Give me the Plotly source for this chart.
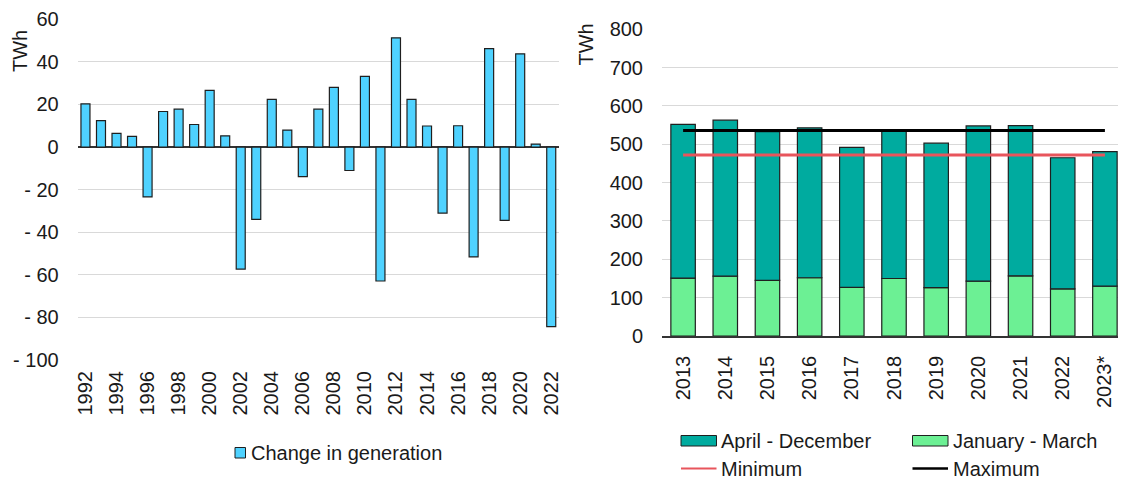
import plotly.graph_objects as go

# ---------------- data ----------------
years_left = ["1992", "1993", "1994", "1995", "1996", "1997", "1998", "1999", "2000", "2001",
              "2002", "2003", "2004", "2005", "2006", "2007", "2008", "2009", "2010", "2011",
              "2012", "2013", "2014", "2015", "2016", "2017", "2018", "2019", "2020", "2021", "2022"]
change_in_generation = [20.3, 12.4, 6.4, 5.0, -23.4, 16.7, 17.8, 10.6, 26.6, 5.3,
                        -57.3, -34.0, 22.4, 8.0, -13.9, 17.8, 28.0, -11.0, 33.2, -62.9,
                        51.3, 22.4, 9.9, -31.0, 10.0, -51.6, 46.2, -34.4, 43.8, 1.4, -84.3]
left_xticks = ["1992", "1994", "1996", "1998", "2000", "2002", "2004", "2006", "2008",
               "2010", "2012", "2014", "2016", "2018", "2020", "2022"]
left_yticks = [-100, -80, -60, -40, -20, 0, 20, 40, 60]
left_yticktext = ["- 100", "- 80", "- 60", "- 40", "- 20", "0", "20", "40", "60"]

years_right = ["2013", "2014", "2015", "2016", "2017", "2018", "2019", "2020", "2021", "2022", "2023*"]
jan_mar = [151, 156, 145, 152, 127, 150, 126, 143, 157, 123, 130]
apr_dec = [401, 407, 388, 391, 365, 388, 377, 405, 392, 342, 351]
minimum = [472, 472, 472, 472, 472, 472, 472, 472, 472, 472, 472]
maximum = [536, 536, 536, 536, 536, 536, 536, 536, 536, 536, 536]
right_yticks = [0, 100, 200, 300, 400, 500, 600, 700, 800]

# ---------------- styles ----------------
OFF = 8                       # default page body margin
W, H = 1126 - OFF, 481 - OFF  # figure size so that it fits the window
FONT = "Liberation Sans, Arial, sans-serif"
TXT = "#1a1a1a"
FS = 20
GRID = "#d9d9d9"
BLUE = "#4fd2ff"
TEAL = "#00ab9f"
GREEN = "#6cf094"
RED = "#e8555c"
EDGE = "#1f1f1f"


def px(x):
    return (x - OFF) / W


def py(y):
    return 1 - (y - OFF) / H


fig = go.Figure()

fig.add_trace(go.Bar(x=years_left, y=change_in_generation, name="Change in generation",
                     marker=dict(color=BLUE, line=dict(color=EDGE, width=1.2)),
                     xaxis="x", yaxis="y", showlegend=False))

fig.add_trace(go.Bar(x=years_right, y=jan_mar, name="January - March",
                     marker=dict(color=GREEN, line=dict(color=EDGE, width=1.2)),
                     xaxis="x2", yaxis="y2", showlegend=False))
fig.add_trace(go.Bar(x=years_right, y=apr_dec, name="April - December",
                     marker=dict(color=TEAL, line=dict(color=EDGE, width=1.2)),
                     xaxis="x2", yaxis="y2", showlegend=False))
fig.add_trace(go.Scatter(x=years_right, y=minimum, name="Minimum", mode="lines",
                         line=dict(color=RED, width=3), xaxis="x2", yaxis="y2", showlegend=False))
fig.add_trace(go.Scatter(x=years_right, y=maximum, name="Maximum", mode="lines",
                         line=dict(color="#000000", width=3), xaxis="x2", yaxis="y2", showlegend=False))

tickfont = dict(family=FONT, size=FS, color=TXT)

fig.update_layout(
    template="none",
    width=W, height=H,
    margin=dict(l=0, r=0, t=0, b=0, autoexpand=False),
    paper_bgcolor="white", plot_bgcolor="white",
    barmode="relative", bargap=0.42,
    hovermode="closest",
    font=dict(family=FONT, size=FS, color=TXT),
    xaxis=dict(domain=[px(77.7), px(559)], type="category", automargin=False,
               tickmode="array", tickvals=left_xticks, ticktext=left_xticks,
               tickangle=-90, tickfont=tickfont, showgrid=False, showline=False,
               zeroline=False, ticks="", ticklabelstandoff=6, anchor="y"),
    yaxis=dict(domain=[py(360), py(19.3)], range=[-100, 60], automargin=False,
               tickmode="array", tickvals=left_yticks, ticktext=left_yticktext,
               tickfont=tickfont, showgrid=True, gridcolor=GRID, gridwidth=1.3,
               zeroline=True, zerolinecolor="#333333", zerolinewidth=1.5,
               showline=False, ticks="", ticklabelstandoff=18, anchor="x"),
    xaxis2=dict(domain=[px(662), 1.0], type="category", automargin=False,
                tickangle=-90, tickfont=tickfont, showgrid=False,
                showline=True, linecolor="#333333", linewidth=1.5, zeroline=False,
                ticks="", ticklabelstandoff=10, anchor="y2"),
    yaxis2=dict(domain=[py(336), py(29.3)], range=[0, 800], automargin=False,
                tickmode="array", tickvals=right_yticks,
                tickfont=tickfont, showgrid=True, gridcolor=GRID, gridwidth=1.3,
                zeroline=False, showline=False, ticks="", ticklabelstandoff=18, anchor="x2"),
)

shapes = []
annotations = []

# axis titles
annotations.append(dict(text="TWh", x=px(20), y=py(51), xref="paper", yref="paper",
                        textangle=-90, showarrow=False, font=dict(family=FONT, size=FS, color=TXT),
                        xanchor="center", yanchor="middle"))
annotations.append(dict(text="TWh", x=px(585.5), y=py(45), xref="paper", yref="paper",
                        textangle=-90, showarrow=False, font=dict(family=FONT, size=FS, color=TXT),
                        xanchor="center", yanchor="middle"))


def legend_text(label, x, y):
    annotations.append(dict(text=label, x=px(x), y=py(y), xref="paper", yref="paper",
                            showarrow=False, xanchor="left", yanchor="middle",
                            font=dict(family=FONT, size=FS, color=TXT)))


# left legend
shapes.append(dict(type="rect", xref="paper", yref="paper",
                   x0=px(235), x1=px(245.5), y0=py(458), y1=py(447.5),
                   fillcolor=BLUE, line=dict(color=EDGE, width=1)))
legend_text("Change in generation", 248.5, 452.5)

# right legend
shapes.append(dict(type="rect", xref="paper", yref="paper",
                   x0=px(681), x1=px(716.5), y0=py(446), y1=py(435.5),
                   fillcolor=TEAL, line=dict(color=EDGE, width=1)))
legend_text("April - December", 719, 440.5)
shapes.append(dict(type="rect", xref="paper", yref="paper",
                   x0=px(912.5), x1=px(948), y0=py(446), y1=py(435.5),
                   fillcolor=GREEN, line=dict(color=EDGE, width=1)))
legend_text("January - March", 951, 440.5)
shapes.append(dict(type="line", xref="paper", yref="paper",
                   x0=px(681), x1=px(716.5), y0=py(468.5), y1=py(468.5),
                   line=dict(color=RED, width=2)))
legend_text("Minimum", 719, 468.5)
shapes.append(dict(type="line", xref="paper", yref="paper",
                   x0=px(912.5), x1=px(948), y0=py(468.5), y1=py(468.5),
                   line=dict(color="#000000", width=2.5)))
legend_text("Maximum", 951, 468.5)

fig.update_layout(shapes=shapes, annotations=annotations)

fig.write_html("out.html")
